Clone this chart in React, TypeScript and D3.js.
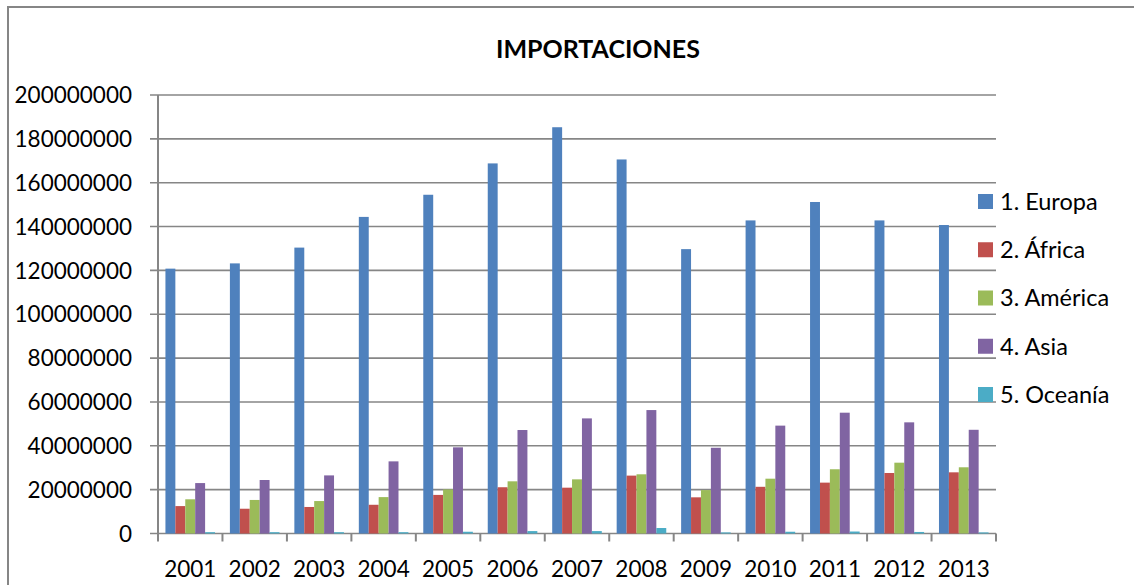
import React from "react";
import * as d3 from "d3";

const years = ["2001","2002","2003","2004","2005","2006","2007","2008","2009","2010","2011","2012","2013"];
const seriesNames = ["1. Europa", "2. África", "3. América", "4. Asia", "5. Oceanía"];
const colors = ["#4F81BD", "#C0504D", "#9BBB59", "#8064A2", "#4BACC6"];
const europa = [120.8e6, 123.2e6, 130.4e6, 144.4e6, 154.5e6, 168.8e6, 185.3e6, 170.6e6, 129.7e6, 142.8e6, 151.2e6, 142.8e6, 140.7e6];
const africa = [12.5e6, 11.3e6, 12.1e6, 13.1e6, 17.6e6, 21.1e6, 20.9e6, 26.4e6, 16.5e6, 21.3e6, 23.2e6, 27.6e6, 27.9e6];
const america = [15.6e6, 15.3e6, 14.8e6, 16.6e6, 20.1e6, 23.8e6, 24.7e6, 27.0e6, 19.8e6, 25.0e6, 29.3e6, 32.3e6, 30.2e6];
const asia = [23.0e6, 24.4e6, 26.5e6, 32.9e6, 39.3e6, 47.2e6, 52.5e6, 56.3e6, 39.1e6, 49.2e6, 55.1e6, 50.7e6, 47.3e6];
const oceania = [0.6e6, 0.6e6, 0.6e6, 0.6e6, 0.8e6, 1.1e6, 1.1e6, 2.5e6, 0.5e6, 0.8e6, 0.9e6, 0.7e6, 0.5e6];
const yTicks = [0, 20000000, 40000000, 60000000, 80000000, 100000000, 120000000, 140000000, 160000000, 180000000, 200000000];
const title = "IMPORTACIONES";

const allSeries = [europa, africa, america, asia, oceania];

export default function App() {
  const W = 1134, H = 585;
  const left = 158, right = 996, top = 95, bottom = 533.5;
  const font = "Lato, 'Open Sans', sans-serif";
  const grid = "#868686";

  const x = d3.scaleBand<string>().domain(years).range([left, right]).paddingInner(0).paddingOuter(0);
  const inner = d3.scaleBand<number>().domain(d3.range(5)).range([0, x.bandwidth()]).paddingOuter(0.75).paddingInner(0);
  const y = d3.scaleLinear().domain([0, 200000000]).range([bottom, top]);

  const legendY = d3.scaleLinear().domain([0, 4]).range([201.5, 394.5]);

  return (
    <svg width={W} height={H} style={{ position: "absolute", left: 0, top: 0, background: "#fff" }}>
      <path d={`M8,${H + 5} L8,7 L${W + 5},7`} fill="none" stroke={grid} strokeWidth={2} />
      <text x={598} y={57.5} textAnchor="middle" fontFamily={font} fontWeight="bold" fontSize={25} fill="#000">{title}</text>
      {yTicks.map((t) => (
        <g key={t}>
          <line x1={150} x2={right} y1={y(t)} y2={y(t)} stroke={grid} strokeWidth={1.6} />
          <text x={132} y={y(t)} dy="0.36em" textAnchor="end" fontFamily={font} fontSize={22.5} fill="#000">{t}</text>
        </g>
      ))}
      <line x1={left} x2={left} y1={top} y2={bottom + 8} stroke={grid} strokeWidth={2} />
      {years.map((yr) => (
        <line key={"t" + yr} x1={x(yr)! + x.bandwidth()} x2={x(yr)! + x.bandwidth()} y1={bottom} y2={bottom + 8} stroke={grid} strokeWidth={2} />
      ))}
      {allSeries.map((s, si) =>
        s.map((v, i) => (
          <rect key={si + "-" + i}
            x={x(years[i])! + inner(si)!}
            y={y(v)}
            width={inner.bandwidth()}
            height={bottom - y(v)}
            fill={colors[si]} />
        ))
      )}
      {years.map((yr) => (
        <text key={"l" + yr} x={x(yr)! + x.bandwidth() / 2} y={577} textAnchor="middle" fontFamily={font} fontSize={22.5} fill="#000">{yr}</text>
      ))}
      {seriesNames.map((n, i) => (
        <g key={n}>
          <rect x={978} y={legendY(i) - 7.5} width={15} height={15} fill={colors[i]} />
          <text x={1000} y={legendY(i)} dy="0.36em" fontFamily={font} fontSize={23.5} fill="#000">{n}</text>
        </g>
      ))}
    </svg>
  );
}
